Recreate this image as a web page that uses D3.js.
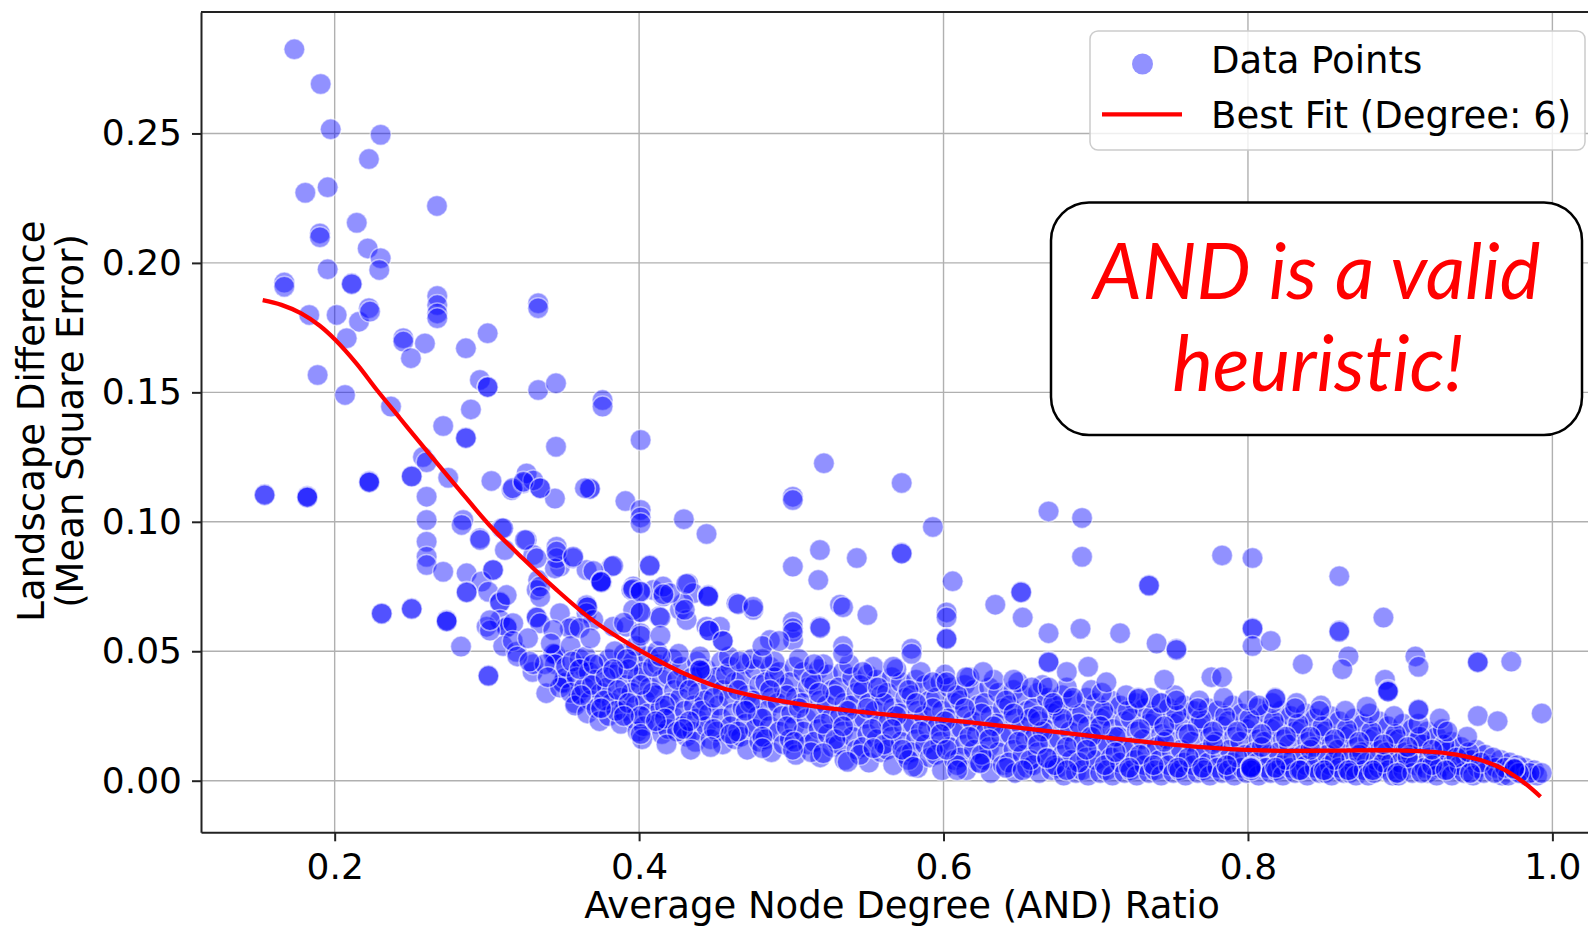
<!DOCTYPE html>
<html><head><meta charset="utf-8">
<script src="https://cdn.jsdelivr.net/npm/d3@7"></script>
<style>html,body{margin:0;padding:0;background:#fff;overflow:hidden}</style>
</head><body>
<script>
// ---------------- data ----------------
const xTickValues = [0.2, 0.4, 0.6, 0.8, 1.0];
const xTickLabels = ["0.2", "0.4", "0.6", "0.8", "1.0"];
const yTickValues = [0, 0.05, 0.10, 0.15, 0.20, 0.25];
const yTickLabels = ["0.00", "0.05", "0.10", "0.15", "0.20", "0.25"];

const fitX = [0.1527,0.165,0.178,0.19,0.2,0.2145,0.2276,0.2429,0.2582,0.2801,0.302,0.3239,0.3458,0.3677,0.39,0.41,0.43,0.45,0.48,0.5143,0.5472,0.58,0.6129,0.6457,0.6764,0.7206,0.7648,0.8091,0.8533,0.8975,0.9307,0.9528,0.9683,0.9815,0.9922];
const fitY = [0.1856,0.1838,0.1805,0.1758,0.1705,0.1610,0.1510,0.1400,0.1290,0.1136,0.0985,0.0857,0.0737,0.0628,0.0540,0.0472,0.0413,0.0366,0.0322,0.0288,0.0265,0.0246,0.0228,0.0207,0.0187,0.0158,0.0132,0.0117,0.0116,0.0117,0.0106,0.0080,0.0043,-0.0008,-0.0062];

// sparse points at low AND ratio
const leftPoints = [
[0.1735,0.2825],[0.1908,0.2691],[0.1974,0.2516],[0.2302,0.2495],[0.2225,0.2401],[0.1807,0.2271],[0.1954,0.2292],[0.2145,0.2155],[0.2672,0.222],[0.1903,0.2114],[0.1903,0.2099],[0.2217,0.2056],[0.2302,0.2018],[0.2293,0.1973],[0.1954,0.1975],[0.1669,0.1924],[0.1669,0.1908],[0.2112,0.1921],[0.2112,0.1918],[0.1833,0.1799],[0.2013,0.1799],[0.216,0.1773],[0.2225,0.1825],[0.2232,0.1812],[0.2079,0.1709],[0.2674,0.1872],[0.2674,0.1837],[0.2674,0.1805],[0.2674,0.1786],[0.2451,0.1709],[0.2451,0.1696],[0.2593,0.1689],[0.2501,0.1632],[0.2862,0.167],[0.3005,0.1728],[0.1888,0.1567],[0.2068,0.149],[0.237,0.1445],[0.2954,0.1548],[0.3005,0.1522],[0.3005,0.152],[0.2895,0.1434],[0.3337,0.1509],[0.3454,0.1535],[0.3337,0.1844],[0.3337,0.1825],
[0.2713,0.137],[0.2862,0.1326],[0.2862,0.1323],[0.3454,0.129],[0.401,0.1316],[0.376,0.147],[0.376,0.1445],
[0.258,0.125],[0.2604,0.123],[0.2746,0.117],[0.2506,0.1177],[0.2506,0.1175],[0.2227,0.1158],[0.2227,0.1155],[0.2227,0.1152],[0.154,0.1106],[0.154,0.1103],[0.182,0.110],[0.182,0.1097],[0.182,0.1094],
[0.303,0.1158],[0.3163,0.1123],[0.3239,0.1149],[0.3349,0.113],[0.3447,0.109],[0.3261,0.1187],[0.3305,0.116],[0.3677,0.113],[0.3677,0.1127],[0.391,0.108],[0.401,0.1046],[0.401,0.1017],[0.401,0.0994],[0.4294,0.101],[0.4443,0.0953],
[0.2604,0.1097],[0.2604,0.1007],[0.2604,0.0923],[0.2604,0.0865],[0.2604,0.0833],[0.2845,0.1007],[0.2834,0.0988],[0.2954,0.0936],[0.3097,0.0975],[0.3118,0.0891],[0.3261,0.093],[0.3042,0.0814],[0.2713,0.0807],[0.2867,0.0801],[0.2965,0.0769],[0.2867,0.073],[0.2867,0.0727],[0.3009,0.073],[0.3086,0.0691],[0.3086,0.0688],[0.313,0.0717],[0.3086,0.0621],[0.313,0.0595],[0.313,0.0592],[0.2998,0.0595],[0.3173,0.0608],[0.3327,0.0633],[0.3327,0.063],[0.3349,0.0608],[0.348,0.0647],[0.3567,0.0595],[0.3655,0.0679],[0.3655,0.0676],[0.3655,0.0647],[0.3699,0.0621],[0.383,0.0595],[0.3918,0.0595],
[0.3305,0.0872],[0.3337,0.0775],[0.3327,0.0737],[0.3458,0.0904],[0.348,0.0827],[0.3458,0.0859],[0.3567,0.0859],[0.3655,0.0814],[0.3754,0.0769],[0.3754,0.0766],[0.3819,0.0827],[0.3961,0.075],[0.4093,0.0737],[0.4158,0.0711],[0.4268,0.066],[0.4312,0.0621],[0.4443,0.0595],[0.4531,0.0595],[0.464,0.0685],[0.475,0.066],[0.4859,0.0543],[0.5012,0.0543],
[0.2309,0.0647],[0.2309,0.0645],[0.2506,0.0666],[0.2506,0.0663],[0.2736,0.0621],[0.2736,0.0618],[0.2736,0.0615],[0.283,0.0518],[0.301,0.0407],[0.301,0.0404],[0.330,0.042],[0.339,0.0338],[0.358,0.030],[0.350,0.038],[0.350,0.0377],[0.345,0.049],[0.345,0.0487],
[0.3436,0.049],[0.3447,0.045],[0.351,0.0396],[0.3633,0.044],[0.36,0.0338],[0.3107,0.052],[0.3195,0.0498],[0.302,0.058],[0.302,0.062],[0.3305,0.045],[0.317,0.054],[0.3545,0.0589],[0.3436,0.0582],[0.335,0.075],[0.335,0.071],[0.3447,0.082],[0.304,0.0814],[0.3327,0.0859],[0.3458,0.0885],[0.3567,0.0865],[0.325,0.093],[0.3107,0.0975],[0.2955,0.093],[0.3644,0.113],[0.317,0.113],[0.324,0.1155],[0.335,0.113],
[0.320,0.048],[0.327,0.055],[0.338,0.045],[0.342,0.053],[0.352,0.044],[0.348,0.036],[0.340,0.040],[0.328,0.046],[0.355,0.052],[0.361,0.047]
];

// sparse points above the main band
const upperPoints = [
[0.4322,0.0762],[0.4355,0.0724],[0.429,0.0685],[0.4158,0.075],[0.4202,0.0724],[0.395,0.0737],[0.4005,0.073],[0.4005,0.0653],[0.3961,0.066],[0.4132,0.0634],[0.407,0.0833],[0.383,0.083],[0.370,0.081],[0.4454,0.0717],[0.4454,0.0714],[0.4454,0.0711],[0.4651,0.0682],[0.475,0.0672],[0.532,0.068],[0.5177,0.0775],[0.501,0.0827],[0.5188,0.0891],[0.501,0.1097],[0.501,0.1084],[0.5214,0.1226],[0.501,0.0614],[0.501,0.0589],[0.501,0.0574],[0.5188,0.0595],
[0.5725,0.115],[0.593,0.098],[0.669,0.104],[0.691,0.1015],[0.691,0.0865],[0.5725,0.088],[0.5725,0.0877],[0.543,0.086],[0.606,0.077],[0.634,0.068],[0.652,0.063],[0.651,0.073],[0.651,0.0727],[0.602,0.065],[0.602,0.063],[0.602,0.055],[0.602,0.0547],[0.579,0.051],[0.579,0.049],[0.669,0.057],[0.669,0.046],[0.669,0.0457],[0.534,0.067],[0.550,0.064],[0.519,0.059],
[0.783,0.087],[0.803,0.086],[0.860,0.079],[0.735,0.0756],[0.735,0.0753],[0.889,0.063],[0.690,0.0587],[0.716,0.057],[0.740,0.053],[0.753,0.051],[0.753,0.0505],[0.803,0.059],[0.803,0.0587],[0.803,0.052],[0.815,0.054],[0.860,0.058],[0.860,0.0575],[0.866,0.048],[0.862,0.043],[0.836,0.045],[0.910,0.048],[0.912,0.044],[0.951,0.046],[0.951,0.0457],[0.973,0.046],[0.890,0.039],[0.892,0.035],[0.892,0.0347],[0.892,0.0344],[0.912,0.0276],[0.912,0.0273],[0.951,0.025],[0.964,0.023],[0.993,0.026],[0.878,0.0286],[0.926,0.024],[0.931,0.019],[0.695,0.044],[0.707,0.038],[0.745,0.039],[0.776,0.040],[0.783,0.040],[0.728,0.032],[0.728,0.0317],[0.767,0.028],[0.743,0.030],[0.753,0.031],[0.818,0.032],[0.818,0.0317],[0.807,0.029],[0.831,0.028],[0.847,0.027],[0.703,0.021],[0.802,0.0054],[0.802,0.0051],[0.802,0.0048],[0.975,0.0048],[0.975,0.0045],[0.993,0.003],
[0.534,0.052],[0.534,0.049],[0.515,0.045],[0.547,0.042],[0.557,0.036],[0.567,0.044],[0.593,0.038],[0.602,0.038],[0.615,0.040],[0.626,0.042],[0.646,0.039],[0.658,0.036],[0.681,0.042],[0.669,0.036],[0.672,0.030],[0.662,0.025],[0.685,0.032],[0.466,0.046],[0.481,0.047],[0.481,0.052],[0.492,0.054],[0.440,0.043],[0.455,0.054],[0.446,0.058],[0.414,0.048],[0.392,0.047],[0.383,0.043],[0.401,0.018],[0.390,0.025],[0.375,0.028],[0.411,0.023],[0.429,0.020],[0.447,0.013],[0.460,0.018],[0.481,0.0125],[0.501,0.012],[0.521,0.0106],[0.537,0.0073],[0.554,0.0125],[0.573,0.012],[0.580,0.0054],[0.602,0.012],[0.609,0.004],[0.624,0.0067],[0.652,0.004],[0.668,0.0087],[0.681,0.004],
[0.431,0.076],[0.430,0.066],[0.416,0.072],[0.414,0.063],[0.407,0.083],[0.375,0.077],[0.375,0.0767],[0.396,0.074],[0.401,0.073],[0.401,0.065],[0.390,0.061],[0.401,0.057],[0.401,0.056],[0.366,0.067],[0.361,0.059],[0.368,0.055],[0.446,0.058],[0.455,0.054],[0.414,0.056],[0.440,0.0427]
];

// dense band of points (main lattice of readings)
const bandPoints = [
[0.356,0.046],[0.359,0.040],[0.355,0.034],[0.358,0.029],
[0.365,0.048],[0.367,0.042],[0.364,0.036],[0.368,0.031],[0.366,0.026],
[0.374,0.045],[0.371,0.039],[0.375,0.034],[0.372,0.028],[0.374,0.023],
[0.380,0.047],[0.383,0.041],[0.379,0.036],[0.382,0.030],[0.380,0.025],
[0.390,0.049],[0.387,0.043],[0.391,0.037],[0.388,0.032],[0.390,0.027],[0.388,0.022],
[0.396,0.046],[0.399,0.040],[0.395,0.034],[0.398,0.029],[0.396,0.024],[0.399,0.019],
[0.406,0.048],[0.403,0.042],[0.407,0.036],[0.404,0.031],[0.406,0.026],[0.403,0.021],
[0.412,0.045],[0.415,0.039],[0.411,0.033],[0.414,0.028],[0.412,0.022],[0.415,0.018],
[0.422,0.047],[0.419,0.041],[0.423,0.035],[0.420,0.030],[0.422,0.025],[0.419,0.020],
[0.428,0.044],[0.431,0.038],[0.427,0.032],[0.430,0.027],[0.428,0.021],[0.431,0.017],
[0.438,0.046],[0.435,0.040],[0.439,0.034],[0.436,0.029],[0.438,0.024],[0.435,0.019],[0.437,0.015],
[0.444,0.043],[0.447,0.037],[0.443,0.031],[0.446,0.026],[0.444,0.021],[0.447,0.016],
[0.454,0.046],[0.451,0.040],[0.455,0.035],[0.452,0.029],[0.454,0.024],[0.451,0.019],[0.455,0.014],
[0.460,0.044],[0.463,0.038],[0.459,0.032],[0.462,0.026],[0.460,0.021],[0.463,0.016],
[0.470,0.045],[0.467,0.039],[0.471,0.033],[0.468,0.028],[0.470,0.022],[0.467,0.017],[0.471,0.012],
[0.476,0.043],[0.479,0.037],[0.475,0.031],[0.478,0.025],[0.476,0.020],[0.479,0.015],
[0.486,0.044],[0.483,0.038],[0.487,0.032],[0.484,0.027],[0.486,0.021],[0.483,0.016],[0.487,0.011],
[0.492,0.042],[0.495,0.036],[0.491,0.030],[0.494,0.025],[0.492,0.019],[0.495,0.014],
[0.502,0.044],[0.499,0.038],[0.503,0.032],[0.500,0.026],[0.502,0.021],[0.499,0.016],[0.503,0.010],
[0.508,0.042],[0.511,0.036],[0.507,0.030],[0.510,0.024],[0.508,0.019],[0.511,0.014],
[0.518,0.043],[0.515,0.037],[0.519,0.031],[0.516,0.026],[0.518,0.020],[0.515,0.015],[0.519,0.009],
[0.524,0.041],[0.527,0.035],[0.523,0.029],[0.526,0.024],[0.524,0.018],[0.527,0.013],
[0.534,0.042],[0.531,0.036],[0.535,0.030],[0.532,0.025],[0.534,0.019],[0.531,0.014],[0.535,0.008],
[0.540,0.040],[0.543,0.034],[0.539,0.029],[0.542,0.023],[0.540,0.017],[0.543,0.012],
[0.550,0.041],[0.547,0.035],[0.551,0.030],[0.548,0.024],[0.550,0.018],[0.547,0.013],[0.551,0.007],
[0.556,0.039],[0.559,0.033],[0.555,0.027],[0.558,0.022],[0.556,0.016],[0.559,0.011],
[0.566,0.040],[0.563,0.034],[0.567,0.028],[0.564,0.023],[0.566,0.017],[0.563,0.012],[0.567,0.006],
[0.572,0.038],[0.575,0.032],[0.571,0.026],[0.574,0.021],[0.572,0.015],[0.575,0.010],
[0.582,0.039],[0.579,0.033],[0.583,0.027],[0.580,0.022],[0.582,0.016],[0.579,0.011],[0.583,0.005],
[0.588,0.037],[0.591,0.031],[0.587,0.025],[0.590,0.020],[0.588,0.014],[0.591,0.009],
[0.598,0.038],[0.595,0.032],[0.599,0.027],[0.596,0.021],[0.598,0.015],[0.595,0.010],[0.599,0.004],
[0.604,0.036],[0.607,0.030],[0.603,0.024],[0.606,0.019],[0.604,0.013],[0.607,0.008],
[0.614,0.037],[0.611,0.031],[0.615,0.025],[0.612,0.020],[0.614,0.014],[0.611,0.009],[0.615,0.004],
[0.620,0.035],[0.623,0.029],[0.619,0.023],[0.622,0.018],[0.620,0.012],[0.623,0.007],
[0.630,0.036],[0.627,0.030],[0.631,0.025],[0.628,0.019],[0.630,0.013],[0.627,0.008],[0.631,0.003],
[0.636,0.034],[0.639,0.028],[0.635,0.022],[0.638,0.017],[0.636,0.011],[0.639,0.006],
[0.646,0.035],[0.643,0.029],[0.647,0.024],[0.644,0.018],[0.646,0.012],[0.643,0.007],[0.647,0.003],
[0.652,0.033],[0.655,0.027],[0.651,0.021],[0.654,0.016],[0.652,0.010],[0.655,0.005],
[0.662,0.034],[0.659,0.028],[0.663,0.023],[0.660,0.017],[0.662,0.011],[0.659,0.006],[0.663,0.003],
[0.668,0.032],[0.671,0.026],[0.667,0.020],[0.670,0.015],[0.668,0.009],[0.671,0.004],
[0.678,0.033],[0.675,0.027],[0.679,0.022],[0.676,0.016],[0.678,0.010],[0.675,0.005],[0.679,0.002],
[0.684,0.031],[0.687,0.025],[0.683,0.019],[0.686,0.014],[0.684,0.008],[0.687,0.003],
[0.694,0.032],[0.691,0.026],[0.695,0.021],[0.692,0.015],[0.694,0.009],[0.691,0.004],[0.695,0.002],
[0.700,0.030],[0.703,0.024],[0.699,0.018],[0.702,0.013],[0.700,0.008],[0.703,0.003],
[0.710,0.031],[0.707,0.025],[0.711,0.020],[0.708,0.014],[0.710,0.009],[0.707,0.004],[0.711,0.002],
[0.716,0.029],[0.719,0.023],[0.715,0.017],[0.718,0.012],[0.716,0.007],[0.719,0.003],
[0.726,0.030],[0.723,0.024],[0.727,0.019],[0.724,0.013],[0.726,0.008],[0.723,0.004],[0.727,0.002],
[0.732,0.028],[0.735,0.022],[0.731,0.016],[0.734,0.011],[0.732,0.006],[0.735,0.003],
[0.742,0.030],[0.739,0.024],[0.743,0.018],[0.740,0.013],[0.742,0.008],[0.739,0.004],[0.743,0.002],
[0.748,0.028],[0.751,0.022],[0.747,0.016],[0.750,0.011],[0.748,0.006],[0.751,0.003],
[0.758,0.029],[0.755,0.023],[0.759,0.018],[0.756,0.012],[0.758,0.007],[0.755,0.004],[0.759,0.002],
[0.764,0.027],[0.767,0.021],[0.763,0.015],[0.766,0.010],[0.764,0.006],[0.767,0.003],
[0.774,0.028],[0.771,0.022],[0.775,0.017],[0.772,0.011],[0.774,0.007],[0.771,0.004],[0.775,0.002],
[0.780,0.027],[0.783,0.021],[0.779,0.015],[0.782,0.010],[0.780,0.005],[0.783,0.003],
[0.790,0.029],[0.787,0.023],[0.791,0.017],[0.788,0.012],[0.790,0.007],[0.787,0.004],[0.791,0.002],
[0.796,0.026],[0.799,0.020],[0.795,0.015],[0.798,0.010],[0.796,0.005],[0.799,0.003],
[0.806,0.028],[0.803,0.022],[0.807,0.016],[0.804,0.011],[0.806,0.007],[0.803,0.004],[0.807,0.002],
[0.812,0.026],[0.815,0.020],[0.811,0.015],[0.814,0.010],[0.812,0.005],[0.815,0.003],
[0.822,0.027],[0.819,0.021],[0.823,0.016],[0.820,0.011],[0.822,0.006],[0.819,0.004],[0.823,0.002],
[0.828,0.025],[0.831,0.019],[0.827,0.014],[0.830,0.009],[0.828,0.005],[0.831,0.003],
[0.838,0.026],[0.835,0.020],[0.839,0.015],[0.836,0.010],[0.838,0.006],[0.835,0.004],[0.839,0.002],
[0.844,0.024],[0.847,0.018],[0.843,0.013],[0.846,0.009],[0.844,0.005],[0.847,0.003],
[0.854,0.025],[0.851,0.019],[0.855,0.014],[0.852,0.010],[0.854,0.006],[0.851,0.003],[0.855,0.002],
[0.860,0.023],[0.863,0.017],[0.859,0.012],[0.862,0.008],[0.860,0.005],[0.863,0.003],
[0.870,0.024],[0.867,0.018],[0.871,0.013],[0.868,0.009],[0.870,0.005],[0.867,0.003],[0.871,0.002],
[0.876,0.022],[0.879,0.016],[0.875,0.011],[0.878,0.007],[0.876,0.004],[0.879,0.002],
[0.886,0.023],[0.883,0.017],[0.887,0.012],[0.884,0.008],[0.886,0.005],[0.883,0.003],
[0.892,0.021],[0.895,0.016],[0.891,0.011],[0.894,0.007],[0.892,0.004],[0.895,0.002],
[0.902,0.022],[0.899,0.016],[0.903,0.011],[0.900,0.007],[0.902,0.004],[0.899,0.002],
[0.908,0.020],[0.911,0.015],[0.907,0.010],[0.910,0.006],[0.908,0.003],
[0.918,0.019],[0.915,0.014],[0.919,0.009],[0.916,0.005],[0.918,0.003],
[0.924,0.017],[0.927,0.012],[0.923,0.008],[0.926,0.005],[0.924,0.002],
[0.934,0.015],[0.931,0.011],[0.935,0.007],[0.932,0.004],[0.934,0.002],
[0.940,0.013],[0.943,0.009],[0.939,0.006],[0.942,0.003],
[0.950,0.012],[0.947,0.008],[0.951,0.005],[0.948,0.002],
[0.956,0.010],[0.959,0.006],[0.955,0.003],
[0.966,0.008],[0.963,0.005],[0.967,0.002],
[0.972,0.007],[0.975,0.004],[0.971,0.002],
[0.982,0.005],[0.979,0.003],[0.983,0.002],
[0.988,0.004],[0.990,0.002]
];

// further points filling the dense band between the lattice readings
const bandExtraPoints = [
[0.361,0.043],[0.369,0.037],[0.377,0.031],[0.385,0.027],[0.362,0.033],[0.370,0.045],[0.378,0.040],[0.386,0.035],[0.393,0.030],[0.401,0.025],[0.409,0.034],[0.417,0.029],[0.425,0.039],[0.433,0.035],[0.441,0.027],[0.449,0.032],[0.393,0.043],[0.401,0.037],[0.409,0.044],[0.417,0.024],[0.425,0.019],[0.433,0.023],[0.441,0.042],[0.449,0.020],[0.384,0.050],[0.398,0.052],[0.412,0.050],[0.426,0.049],[0.440,0.048],[0.402,0.016],[0.418,0.014],[0.434,0.012],
[0.457,0.041],[0.465,0.035],[0.473,0.030],[0.481,0.024],[0.489,0.040],[0.497,0.033],[0.505,0.028],[0.513,0.039],[0.521,0.022],[0.529,0.033],[0.537,0.027],[0.545,0.037],[0.553,0.020],[0.561,0.030],[0.569,0.025],[0.577,0.035],[0.585,0.019],[0.593,0.028],[0.601,0.023],[0.609,0.033],[0.617,0.017],[0.625,0.026],[0.633,0.021],[0.641,0.031],[0.649,0.015],[0.657,0.024],[0.665,0.019],[0.673,0.029],[0.681,0.013],[0.689,0.022],[0.697,0.017],
[0.459,0.048],[0.474,0.047],[0.489,0.046],[0.505,0.047],[0.521,0.045],[0.538,0.045],[0.554,0.044],[0.569,0.043],[0.585,0.042],[0.601,0.041],[0.617,0.040],[0.633,0.039],[0.649,0.038],[0.665,0.037],[0.681,0.036],[0.697,0.035],
[0.465,0.019],[0.481,0.017],[0.497,0.021],[0.513,0.011],[0.529,0.016],[0.545,0.010],[0.561,0.014],[0.577,0.008],[0.593,0.012],[0.609,0.006],[0.625,0.010],[0.641,0.005],[0.657,0.008],[0.673,0.006],[0.689,0.007],
[0.470,0.027],[0.486,0.035],[0.502,0.015],[0.518,0.034],[0.534,0.021],[0.550,0.028],[0.566,0.020],[0.582,0.030],[0.598,0.018],[0.614,0.028],[0.630,0.016],[0.646,0.026],[0.662,0.014],[0.678,0.024],[0.694,0.012],
[0.705,0.027],[0.713,0.017],[0.721,0.027],[0.729,0.010],[0.737,0.025],[0.745,0.015],[0.753,0.026],[0.761,0.009],[0.769,0.024],[0.777,0.014],[0.785,0.025],[0.793,0.009],[0.801,0.024],[0.809,0.013],[0.817,0.023],[0.825,0.008],[0.833,0.022],[0.841,0.012],[0.849,0.021],[0.857,0.008],[0.865,0.020],[0.873,0.010],[0.881,0.019],[0.889,0.007],[0.897,0.018],[0.905,0.009],[0.913,0.017],[0.921,0.006],[0.929,0.014],[0.937,0.009],[0.945,0.011],[0.953,0.007],[0.961,0.009],[0.969,0.005],[0.977,0.006],[0.985,0.003],
[0.704,0.034],[0.720,0.033],[0.736,0.032],[0.752,0.033],[0.768,0.031],[0.784,0.032],[0.800,0.031],[0.816,0.030],[0.832,0.030],[0.848,0.029],[0.864,0.027],[0.880,0.026],[0.896,0.025],[0.912,0.022],[0.928,0.020],[0.944,0.017],
[0.706,0.006],[0.722,0.005],[0.738,0.006],[0.754,0.005],[0.770,0.005],[0.786,0.006],[0.802,0.004],[0.818,0.005],[0.834,0.004],[0.850,0.004],[0.866,0.004],[0.882,0.004],[0.898,0.003],[0.914,0.003],[0.930,0.004],[0.946,0.003],[0.962,0.003],[0.978,0.003],
[0.713,0.011],[0.729,0.020],[0.745,0.021],[0.761,0.018],[0.777,0.019],[0.793,0.019],[0.809,0.018],[0.825,0.017],[0.841,0.017],[0.857,0.016],[0.873,0.015],[0.889,0.014],[0.905,0.013],[0.921,0.012]
];

const legendLabels = ["Data Points", "Best Fit (Degree: 6)"];
const axisLabelX = "Average Node Degree (AND) Ratio";
const axisLabelY = ["Landscape Difference", "(Mean Square Error)"];
const calloutLines = ["AND is a valid", "heuristic!"];

// ---------------- drawing ----------------
const W = 1588, H = 930;
const svg = d3.select("body").append("svg").attr("width", W).attr("height", H)
  .style("font-family", "'DejaVu Sans', sans-serif");
const P = {left: 201, right: 1601.4, top: 12, bottom: 832.3};
const x = d3.scaleLinear().domain([0.11218, 1.0322]).range([P.left, P.right]);
const y = d3.scaleLinear().domain([-0.01993, 0.29691]).range([P.bottom, P.top]);

svg.append("defs").append("clipPath").attr("id", "plotclip")
  .append("rect").attr("x", P.left).attr("y", P.top)
  .attr("width", P.right - P.left).attr("height", P.bottom - P.top);

// grid
const grid = svg.append("g");
grid.selectAll("line.gx").data(xTickValues).join("line")
  .attr("x1", d => x(d)).attr("x2", d => x(d)).attr("y1", P.top).attr("y2", P.bottom)
  .attr("stroke", "#b0b0b0").attr("stroke-width", 1.4);
grid.selectAll("line.gy").data(yTickValues).join("line")
  .attr("y1", d => y(d)).attr("y2", d => y(d)).attr("x1", P.left).attr("x2", P.right)
  .attr("stroke", "#b0b0b0").attr("stroke-width", 1.4);

// scatter
const allPoints = leftPoints.concat(bandPoints, bandExtraPoints, upperPoints);
svg.append("g").attr("clip-path", "url(#plotclip)")
  .selectAll("circle").data(allPoints).join("circle")
  .attr("cx", d => x(d[0])).attr("cy", d => y(d[1])).attr("r", 10.5)
  .attr("fill", "#0000ff").attr("fill-opacity", 0.43)
  .attr("stroke", "#ffffff").attr("stroke-opacity", 0.5).attr("stroke-width", 1.5);

// best-fit line
const fitData = fitX.map((v, i) => [v, fitY[i]]);
svg.append("path").datum(fitData).attr("clip-path", "url(#plotclip)")
  .attr("d", d3.line().x(d => x(d[0])).y(d => y(d[1])).curve(d3.curveCatmullRom.alpha(0.5)))
  .attr("fill", "none").attr("stroke", "#ff0000").attr("stroke-width", 4.3)
  .attr("stroke-linecap", "butt");

// axes
const xAxis = d3.axisBottom(x).tickValues(xTickValues).tickFormat((d, i) => xTickLabels[i])
  .tickSize(9).tickSizeOuter(0).tickPadding(12);
const gx = svg.append("g").attr("transform", `translate(0,${P.bottom})`).call(xAxis);
const yAxis = d3.axisLeft(y).tickValues(yTickValues).tickFormat((d, i) => yTickLabels[i])
  .tickSize(9).tickSizeOuter(0).tickPadding(10);
const gy = svg.append("g").attr("transform", `translate(${P.left},0)`).call(yAxis);
[gx, gy].forEach(g => {
  g.select(".domain").attr("stroke", "#222").attr("stroke-width", 2);
  g.selectAll(".tick line").attr("stroke", "#222").attr("stroke-width", 2);
  g.selectAll(".tick text").attr("fill", "#000").style("font-size", "36px")
    .style("font-family", "'DejaVu Sans', sans-serif");
});
svg.append("line").attr("x1", P.left).attr("x2", P.right).attr("y1", P.top).attr("y2", P.top)
  .attr("stroke", "#222").attr("stroke-width", 2);

// axis labels
svg.append("text").attr("x", (584 + 1220) / 2).attr("y", 918).attr("text-anchor", "middle")
  .style("font-size", "37px").text(axisLabelX);
axisLabelY.forEach((t, i) => {
  svg.append("text").attr("transform", `translate(${i === 0 ? 43.5 : 83},421) rotate(-90)`)
    .attr("text-anchor", "middle").style("font-size", "37px").text(t);
});

// legend
const lg = svg.append("g");
lg.append("rect").attr("x", 1090).attr("y", 31).attr("width", 495).attr("height", 119).attr("rx", 8)
  .attr("fill", "#fff").attr("fill-opacity", 0.8).attr("stroke", "#cccccc").attr("stroke-width", 1.5);
lg.append("circle").attr("cx", 1142.5).attr("cy", 64).attr("r", 10.5)
  .attr("fill", "#0000ff").attr("fill-opacity", 0.43);
lg.append("line").attr("x1", 1102).attr("x2", 1182).attr("y1", 114.3).attr("y2", 114.3)
  .attr("stroke", "#ff0000").attr("stroke-width", 4.3);
legendLabels.forEach((t, i) => {
  lg.append("text").attr("x", 1211).attr("y", i === 0 ? 72.7 : 127.7).style("font-size", "37px").text(t);
});

// callout box
const cb = svg.append("g");
cb.append("rect").attr("x", 1051).attr("y", 202.5).attr("width", 531).attr("height", 232.5).attr("rx", 38)
  .attr("fill", "#fff").attr("stroke", "#000").attr("stroke-width", 2.5);
const calloutStyle = sel => sel.attr("text-anchor", "middle")
  .style("font-family", "Lato, 'Open Sans', sans-serif").style("font-style", "italic")
  .style("font-variant-ligatures", "none").style("font-feature-settings", "'liga' 0")
  .attr("fill", "#ff0000");
const c1 = cb.append("text").attr("x", 1317).attr("y", 299).call(calloutStyle)
  .style("font-size", "75px").text(calloutLines[0]);
const w1 = c1.node().getComputedTextLength();
const fs = 75 * 447 / w1;
c1.style("font-size", fs + "px");
cb.append("text").attr("x", 1318).attr("y", 391).call(calloutStyle)
  .style("font-size", fs + "px").text(calloutLines[1]);
</script>
</body></html>
